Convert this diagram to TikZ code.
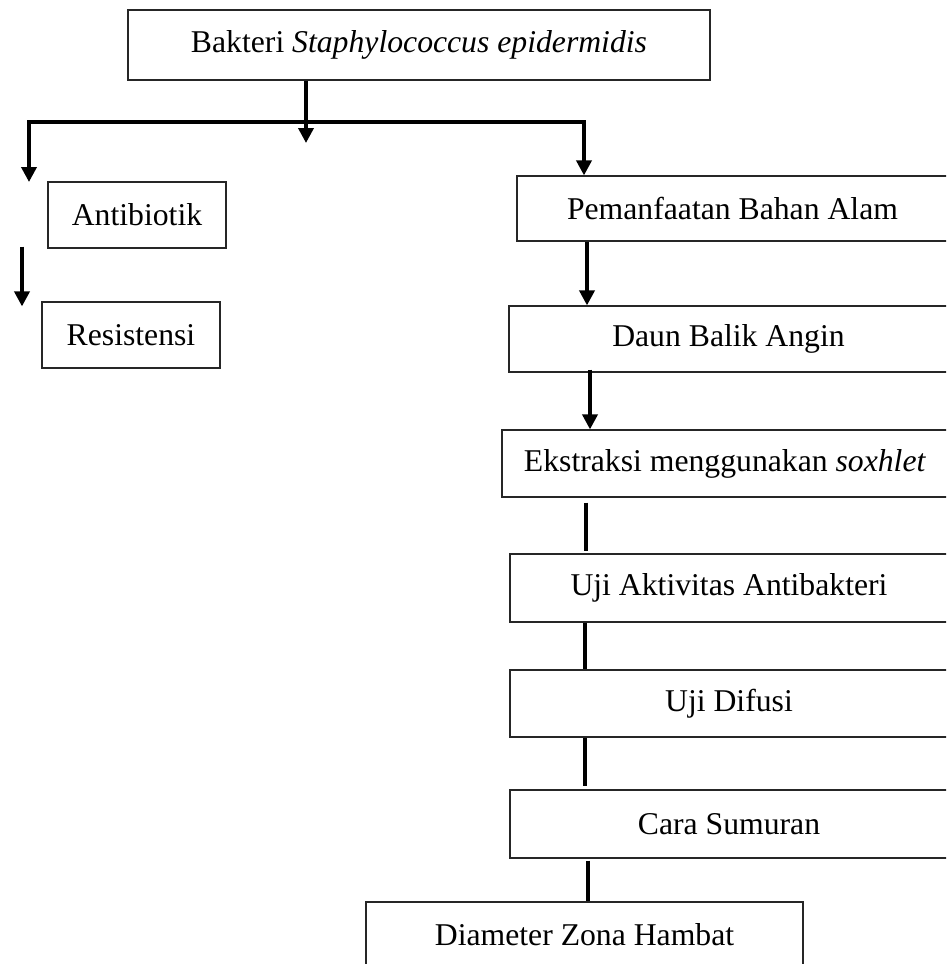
\documentclass[tikz,border=0pt]{standalone}
\usepackage{fontspec}
\setmainfont{Liberation Serif}
\usetikzlibrary{arrows.meta}
\begin{document}
\begin{tikzpicture}[x=1pt,y=-1pt,
  box/.style={draw=black!85,line width=1.2pt,inner sep=0pt,align=center,
    font=\fontsize{31.7}{38}\selectfont},
  arr/.style={line width=3.6pt,-{Triangle[length=15pt,width=15pt]}},
  link/.style={line width=3.6pt}]
\useasboundingbox (0,0) rectangle (946,964);
\clip (0,0) rectangle (946,964);
% nodes
\node[box,minimum width=582pt,minimum height=70pt] (top) at (419,45)
  {Bakteri \textit{Staphylococcus epidermidis}};
\node[box,minimum width=178pt,minimum height=66pt] (antib) at (137,215) {Antibiotik};
\node[box,minimum width=178pt,minimum height=66pt] (res) at (131,335) {Resistensi};
\node[box,minimum width=431pt,minimum height=65pt] (pem) at (732.5,208.5) {Pemanfaatan Bahan Alam};
\node[box,minimum width=439pt,minimum height=66pt] (daun) at (728.5,339) {Daun Balik Angin};
\node[box,minimum width=446pt,minimum height=67pt] (eks) at (725,463.5) {Ekstraksi menggunakan \textit{soxhlet}};
\node[box,minimum width=438pt,minimum height=68pt] (uji) at (729,588) {Uji Aktivitas Antibakteri};
\node[box,minimum width=438pt,minimum height=67pt] (dif) at (729,703.5) {Uji Difusi};
\node[box,minimum width=438pt,minimum height=68pt] (cara) at (729,824) {Cara Sumuran};
\node[box,minimum width=437pt,minimum height=66pt] (diam) at (584.5,935) {Diameter Zona Hambat};
% helper coordinates
\coordinate (midtip) at (306,143);
\coordinate (bl) at (29,122);
\coordinate (br) at (584,122);
\coordinate (lefttip) at (29,182);
\coordinate (xa) at (22,0);
\coordinate (x587) at (587,0);
\coordinate (x590) at (590,0);
\coordinate (x586) at (586,0);
\coordinate (x585) at (585,0);
\coordinate (x588) at (588,0);
% connectors
\draw[line width=3.6pt,{Triangle[length=15pt,width=15pt]}-{Triangle[length=15pt,width=15pt]}]
  (lefttip) -- (bl) -- (br) -- (br |- pem.north);
\draw[arr] (top.south -| midtip) -- (midtip);
\draw[arr] ([yshift=2pt]antib.south -| xa) -- ([yshift=-5pt]res.north -| xa);
\draw[arr] (pem.south -| x587) -- (daun.north -| x587);
\draw[arr] ([yshift=3pt]daun.south -| x590) -- (eks.north -| x590);
\draw[link] ([yshift=-5pt]eks.south -| x586) -- ([yshift=2pt]uji.north -| x586);
\draw[link] (uji.south -| x585) -- (dif.north -| x585);
\draw[link] (dif.south -| x585) -- ([yshift=3pt]cara.north -| x585);
\draw[link] ([yshift=-2pt]cara.south -| x588) -- (diam.north -| x588);
\end{tikzpicture}
\end{document}
